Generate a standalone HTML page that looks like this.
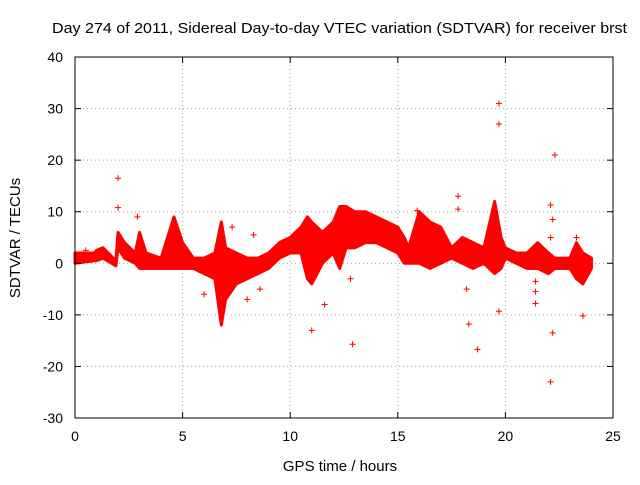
<!DOCTYPE html>
<html><head><meta charset="utf-8"><style>
body{margin:0;background:#fff}
svg{font-family:"Liberation Sans",sans-serif;font-size:14px}
</style></head><body>
<svg width="640" height="480">
<g id="grid"></g>
<g id="marks"></g>
<rect x="75" y="57" width="538" height="361" fill="none" stroke="#000"/>
<g id="axes"></g>
<text x="52" y="33" textLength="575" lengthAdjust="spacingAndGlyphs" font-size="15">Day 274 of 2011, Sidereal Day-to-day VTEC variation (SDTVAR) for receiver brst</text>
<text x="340" y="471" text-anchor="middle" font-size="15">GPS time / hours</text>
<text transform="translate(20,238) rotate(-90)" text-anchor="middle" font-size="15">SDTVAR / TECUs</text>
</svg>
<script>
const xTicks=[0,5,10,15,20,25];
const yTicks=[-30,-20,-10,0,10,20,30,40];
const bandT=[0,0.9,1.0,1.3,1.9,2.0,2.3,2.8,3.0,3.3,4.0,4.6,5.0,5.5,6.0,6.5,6.8,7.0,7.5,8.0,8.5,9.0,9.5,10.0,10.5,10.8,11.0,11.5,12.0,12.3,12.6,13.0,13.5,14.0,14.5,15.0,15.3,15.5,16.0,16.5,17.0,17.5,18.0,18.5,19.0,19.5,19.8,20.0,20.5,21.0,21.5,22.0,22.3,23.0,23.3,23.6,24.0];
const bandLo=[0,0.5,0.5,1,-0.5,3,1,0,-1,-1,-1,-1,-1,-1,-2,-3,-12,-7,-4,-3,-2,-1,1,2,2,-3,-4,0,2,-1,3,3,4,4,3,2,0,0,0,-1,0,1,0,-1,0,-2,-1,1,0,-1,-1,-2,-1,-1,-3,-4,-1];
const bandHi=[2,2,2.5,3,0.5,6,4,2,6,2,1,9,4,1,1,2,8,3,2,1,1,2,4,5,7,9,8,6,8,11,11,10,10,9,8,7,5,3,10,8,7,3,5,4,3,12,5,3,2,2,4,2,1,1,4,2,1];
const outT=[2.0,2.0,2.9,0.5,7.3,8.3,8.6,8.0,6.0,11.0,11.6,12.8,12.9,15.9,17.8,17.8,18.2,18.3,18.7,19.7,19.7,19.7,21.4,21.4,21.4,22.1,22.2,22.3,22.2,22.1,22.1,23.3,23.6];
const outV=[16.5,10.8,9,2.5,7,5.5,-5,-7,-6,-13,-8,-3,-15.7,10.2,13,10.5,-5,-11.8,-16.7,31,27,-9.3,-3.5,-5.5,-7.8,11.3,8.5,21,-13.5,-23,5,5,-10.2];
const NS='http://www.w3.org/2000/svg';
const X0=75,X1=613,Y0=418,Y1=57;
const sx=v=>X0+(v-0)/(25-0)*(X1-X0);
const sy=v=>Y0-(v+30)/70*(Y0-Y1);
function mk(t,a,p){const e=document.createElementNS(NS,t);for(const k in a)e.setAttribute(k,a[k]);p.appendChild(e);return e;}
const grid=document.getElementById('grid'),axes=document.getElementById('axes'),marks=document.getElementById('marks');
xTicks.forEach(v=>{const x=sx(v);
 if(v>0&&v<25){const g=mk('line',{x1:x,x2:x,y1:Y0,y2:Y1,stroke:'#a0a0a0','stroke-dasharray':'1,3'},grid);
 
 }
 mk('line',{x1:x,x2:x,y1:Y0,y2:Y0-6,stroke:'#000'},axes);
 mk('line',{x1:x,x2:x,y1:Y1,y2:Y1+6,stroke:'#000'},axes);
 const t=mk('text',{x:x,y:Y0+23,'text-anchor':'middle'},axes);t.textContent=v;
 
 });
yTicks.forEach(v=>{const y=sy(v);
 if(v>-30&&v<40){const g=mk('line',{x1:X0,x2:X1,y1:y,y2:y,stroke:'#a0a0a0','stroke-dasharray':'1,3'},grid);
 
 }
 mk('line',{x1:X0,x2:X0+6,y1:y,y2:y,stroke:'#000'},axes);
 mk('line',{x1:X1,x2:X1-6,y1:y,y2:y,stroke:'#000'},axes);
 const t=mk('text',{x:X0-12,y:y+5,'text-anchor':'end'},axes);t.textContent=v;
 
 });
let pts=[];
for(let i=0;i<bandT.length;i++)pts.push(sx(bandT[i])+','+sy(bandHi[i]));
for(let i=bandT.length-1;i>=0;i--)pts.push(sx(bandT[i])+','+sy(bandLo[i]));
const band=mk('polygon',{points:pts.join(' '),fill:'#ff0000',stroke:'#ff0000','stroke-width':3,'stroke-linejoin':'round'},marks);


outT.forEach((t,i)=>{const x=sx(t),y=sy(outV[i]);
 const p=mk('path',{d:`M${x-3},${y}H${x+3}M${x},${y-3}V${y+3}`,stroke:'#ff0000','stroke-width':1},marks);
 
 });
</script>
</body></html>
